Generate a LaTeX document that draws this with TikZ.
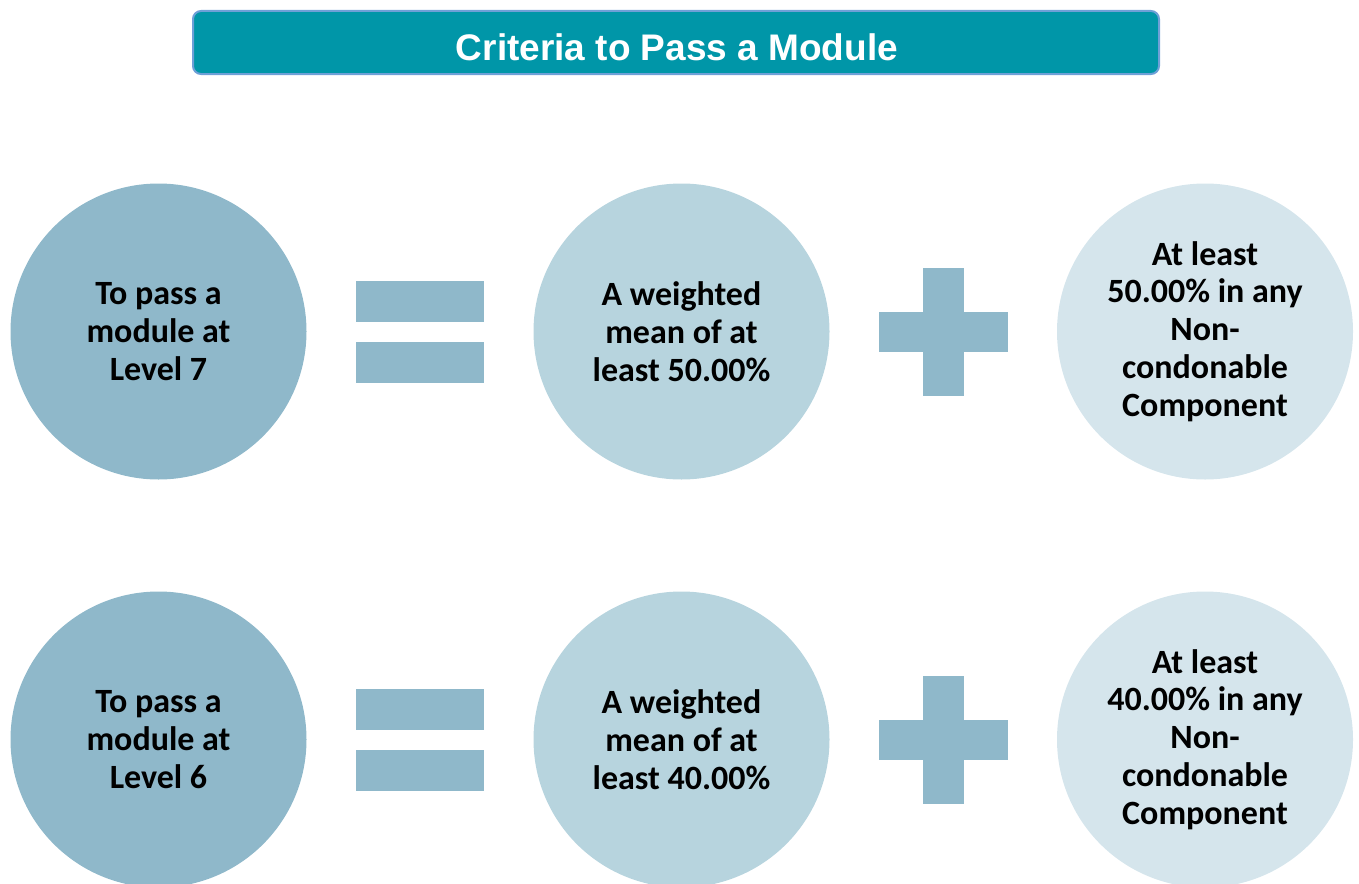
\documentclass[tikz,border=0pt]{standalone}
\usepackage{fontspec}
\setmainfont{Carlito}
\newfontfamily\titlefont{Liberation Sans}
\definecolor{teal}{RGB}{0,150,168}
\definecolor{tealborder}{RGB}{110,160,215}
\definecolor{cdark}{RGB}{143,184,202}
\definecolor{cmid}{RGB}{183,212,222}
\definecolor{clight}{RGB}{213,229,236}
\tikzset{
  circ/.style={circle, minimum size=296pt, inner sep=0pt, align=center,
    font=\fontsize{34}{37.8}\selectfont\bfseries, text=black},
  bar/.style={rectangle, fill=cdark, draw=none, inner sep=0pt},
}
\begin{document}
\begin{tikzpicture}[x=1pt,y=-1pt]
\useasboundingbox (0,0) rectangle (1359,883);
\node[rectangle, rounded corners=8pt, fill=teal, draw=tealborder, line width=2pt,
  minimum width=966pt, minimum height=63pt, inner sep=0pt] (titlebox) at (676,42.5) {};
\node[font=\titlefont\fontsize{37}{40}\selectfont\bfseries, text=white, inner sep=0pt]
  (title) at (677,47) {Criteria to Pass a Module};
% Row 1
\node[circ, fill=cdark] (a1) at (158.5,331.5) {To pass a\\module at\\Level 7};
\node[bar, minimum width=128pt, minimum height=41pt] (e1a) at (420,301.5) {};
\node[bar, minimum width=128pt, minimum height=41pt] (e1b) at (420,362.5) {};
\node[circ, fill=cmid] (b1) at (681.5,331.5) {A weighted\\mean of at\\least 50.00\%};
\node[bar, minimum width=129pt, minimum height=40pt] (p1h) at (943.5,332) {};
\node[bar, minimum width=41pt, minimum height=128pt] (p1v) at (943.5,332) {};
\node[circ, fill=clight] (c1) at (1205,331.5) {At least\\50.00\% in any\\Non-\\condonable\\Component};
% Row 2
\node[circ, fill=cdark] (a2) at (158.5,739.5) {To pass a\\module at\\Level 6};
\node[bar, minimum width=128pt, minimum height=41pt] (e2a) at (420,709.5) {};
\node[bar, minimum width=128pt, minimum height=41pt] (e2b) at (420,770.5) {};
\node[circ, fill=cmid] (b2) at (681.5,739.5) {A weighted\\mean of at\\least 40.00\%};
\node[bar, minimum width=129pt, minimum height=40pt] (p2h) at (943.5,740) {};
\node[bar, minimum width=41pt, minimum height=128pt] (p2v) at (943.5,740) {};
\node[circ, fill=clight] (c2) at (1205,739.5) {At least\\40.00\% in any\\Non-\\condonable\\Component};
\end{tikzpicture}
\end{document}
